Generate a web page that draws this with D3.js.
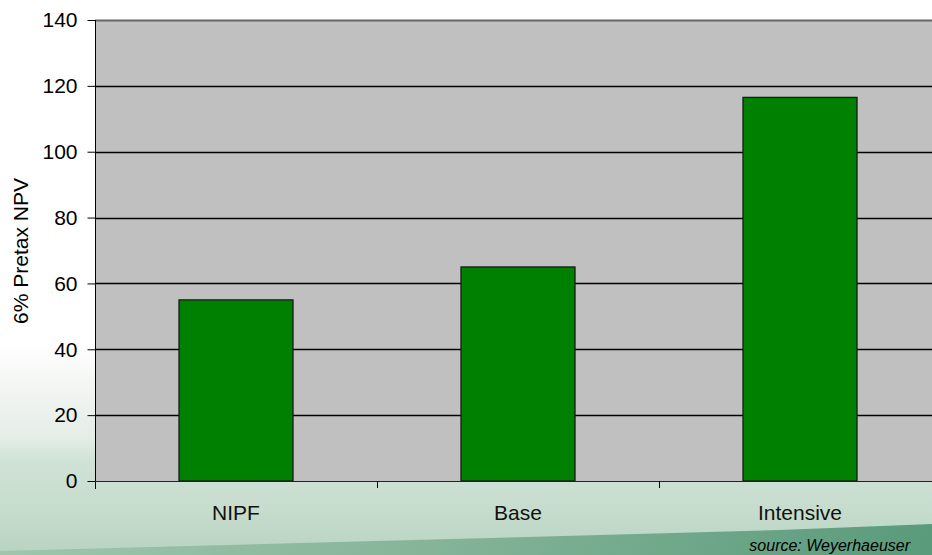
<!DOCTYPE html>
<html><head><meta charset="utf-8">
<script src="https://cdn.jsdelivr.net/npm/d3@7"></script>
<style>body{margin:0;background:#fff}svg{display:block}</style>
</head><body>
<script>
const categories = ["NIPF", "Base", "Intensive"];
const values = [55, 65, 116.5];
const yTicks = [0, 20, 40, 60, 80, 100, 120, 140];
const yLabel = "6% Pretax NPV";
const sourceText = "source: Weyerhaeuser";

const W = 932, H = 555;
const FONT = "Liberation Sans, Arial, sans-serif";
const svg = d3.select("body").append("svg").attr("width", W).attr("height", H);
const defs = svg.append("defs");

// background landscape approximation
const g1 = defs.append("linearGradient").attr("id","bg").attr("x1",0).attr("y1",0).attr("x2",0).attr("y2",1);
[[0,"#ffffff"],[0.62,"#ffffff"],[0.70,"#f2f5f2"],[0.79,"#e4ede6"],[0.83,"#d0e2d6"],[0.92,"#c6dccd"],[1,"#b8d3c1"]]
  .forEach(([o,c])=>g1.append("stop").attr("offset",o).attr("stop-color",c));
svg.append("rect").attr("width",W).attr("height",H).attr("fill","url(#bg)");
const g2 = defs.append("linearGradient").attr("id","band").attr("x1",0).attr("y1",0).attr("x2",1).attr("y2",0);
[[0,"#9cc4ab"],[0.45,"#80b195"],[1,"#4e9472"]].forEach(([o,c])=>g2.append("stop").attr("offset",o).attr("stop-color",c));
svg.append("path").attr("d","M0,551 L300,543 L600,535 L780,530 L932,524 L932,555 L0,555 Z").attr("fill","url(#band)").attr("opacity",0.9);

const m = {left:95, top:20, right:941, bottom:481};
const x = d3.scaleBand().domain(categories).range([m.left, m.right]).paddingInner(0).paddingOuter(0);
const y = d3.scaleLinear().domain([0,140]).range([m.bottom, m.top]);

// plot area
svg.append("rect").attr("x",m.left).attr("y",m.top).attr("width",m.right-m.left).attr("height",m.bottom-m.top).attr("fill","#c0c0c0");

// gridlines
svg.append("g").selectAll("line").data(yTicks.filter(t=>t>0 && t<140)).join("line")
  .attr("x1",m.left).attr("x2",m.right).attr("y1",d=>Math.round(y(d))+0.5).attr("y2",d=>Math.round(y(d))+0.5)
  .attr("stroke","#000").attr("stroke-width",1.6);
svg.append("line").attr("x1",m.left).attr("x2",m.right).attr("y1",m.top+0.5).attr("y2",m.top+0.5)
  .attr("stroke","#666").attr("stroke-width",2);

// bars
const bw = 114;
svg.append("g").selectAll("rect").data(values).join("rect")
  .attr("x",(d,i)=>x(categories[i])+x.bandwidth()/2-bw/2)
  .attr("y",d=>y(d)).attr("width",bw).attr("height",d=>y(0)-y(d))
  .attr("fill","#008000").attr("stroke","#1a1a1a").attr("stroke-width",1.3);

// y axis
const yAxis = d3.axisLeft(y).tickValues(yTicks).tickSize(8).tickPadding(10);
const ya = svg.append("g").attr("transform",`translate(${m.left+0.5},0)`).call(yAxis);
ya.select(".domain").attr("d",`M0,${m.top}V${m.bottom+8}`).attr("stroke","#000");
ya.selectAll(".tick line").attr("stroke","#000").attr("x1",-8).attr("x2",0);
ya.selectAll("text").attr("font-family",FONT).attr("font-size",21).attr("fill","#000");

// x axis
svg.append("line").attr("x1",m.left).attr("x2",m.right).attr("y1",m.bottom+0.5).attr("y2",m.bottom+0.5).attr("stroke","#222").attr("stroke-width",1);
svg.append("g").selectAll("line").data(categories.slice(1)).join("line")
  .attr("x1",d=>x(d)+0.5).attr("x2",d=>x(d)+0.5).attr("y1",m.bottom).attr("y2",m.bottom+7).attr("stroke","#000");
svg.append("g").selectAll("text").data(categories).join("text")
  .attr("x",d=>x(d)+x.bandwidth()/2).attr("y",520).attr("text-anchor","middle")
  .attr("font-family",FONT).attr("font-size",21).attr("fill","#111").text(d=>d);

// y label
svg.append("text").attr("transform","translate(28,251) rotate(-90)").attr("text-anchor","middle")
  .attr("font-family",FONT).attr("font-size",21).attr("fill","#000").text(yLabel);

// source
svg.append("text").attr("x",910).attr("y",551).attr("text-anchor","end").attr("font-style","italic")
  .attr("font-family",FONT).attr("font-size",16).attr("fill","#000").text(sourceText);
</script>
</body></html>
